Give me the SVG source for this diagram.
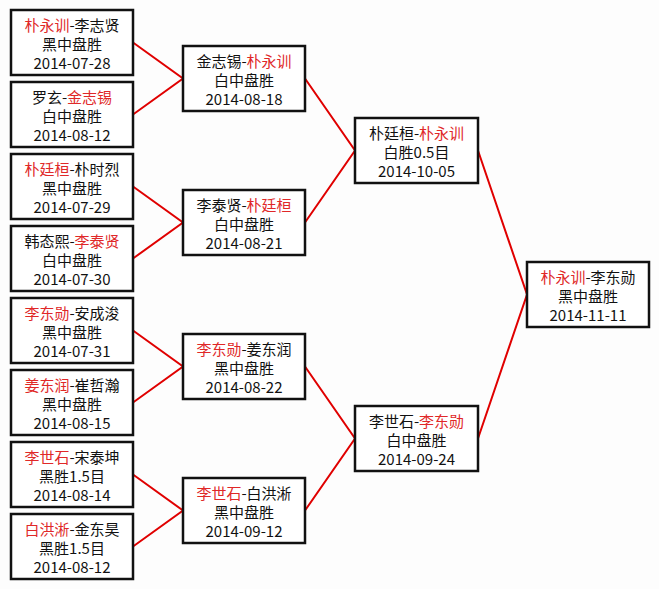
<svg xmlns="http://www.w3.org/2000/svg" width="659" height="589" viewBox="0 0 659 589">
<style>
.box{fill:#fff;stroke:#111;stroke-width:2.5}
text{font-family:"Noto Sans CJK SC","Liberation Sans",sans-serif;font-size:15px;fill:#111;text-anchor:middle}
.r{fill:#e02828}
.con{fill:none;stroke:#e00000;stroke-width:2}
</style>
<rect width="659" height="589" fill="#fdfdfd"/>
<g id="connectors">
<path class="con" d="M133,42.5 L183,78.5 L133,114.5"/>
<path class="con" d="M133,186.5 L183,222.5 L133,258.5"/>
<path class="con" d="M133,330.5 L183,366.5 L133,402.5"/>
<path class="con" d="M133,474.5 L183,510.5 L133,546.5"/>
<path class="con" d="M305,78.5 L355,150.5 L305,222.5"/>
<path class="con" d="M305,366.5 L355,438.5 L305,510.5"/>
<path class="con" d="M478,150.5 L527,294.5 L478,438.5"/>
</g>
<g id="n1"><rect class="box" x="11" y="10" width="122" height="65"/>
<text x="72" y="30.5"><tspan class="r">朴永训</tspan>-李志贤</text><text x="72" y="49.5">黑中盘胜</text><text x="72" y="68.5">2014-07-28</text></g>
<g id="n2"><rect class="box" x="11" y="82" width="122" height="65"/>
<text x="72" y="102.5">罗玄-<tspan class="r">金志锡</tspan></text><text x="72" y="121.5">白中盘胜</text><text x="72" y="140.5">2014-08-12</text></g>
<g id="n3"><rect class="box" x="11" y="154" width="122" height="65"/>
<text x="72" y="174.5"><tspan class="r">朴廷桓</tspan>-朴时烈</text><text x="72" y="193.5">黑中盘胜</text><text x="72" y="212.5">2014-07-29</text></g>
<g id="n4"><rect class="box" x="11" y="226" width="122" height="65"/>
<text x="72" y="246.5">韩态熙-<tspan class="r">李泰贤</tspan></text><text x="72" y="265.5">白中盘胜</text><text x="72" y="284.5">2014-07-30</text></g>
<g id="n5"><rect class="box" x="11" y="298" width="122" height="65"/>
<text x="72" y="318.5"><tspan class="r">李东勋</tspan>-安成浚</text><text x="72" y="337.5">黑中盘胜</text><text x="72" y="356.5">2014-07-31</text></g>
<g id="n6"><rect class="box" x="11" y="370" width="122" height="65"/>
<text x="72" y="390.5"><tspan class="r">姜东润</tspan>-崔哲瀚</text><text x="72" y="409.5">黑中盘胜</text><text x="72" y="428.5">2014-08-15</text></g>
<g id="n7"><rect class="box" x="11" y="442" width="122" height="65"/>
<text x="72" y="462.5"><tspan class="r">李世石</tspan>-宋泰坤</text><text x="72" y="481.5">黑胜1.5目</text><text x="72" y="500.5">2014-08-14</text></g>
<g id="n8"><rect class="box" x="11" y="514" width="122" height="65"/>
<text x="72" y="534.5"><tspan class="r">白洪淅</tspan>-金东昊</text><text x="72" y="553.5">黑胜1.5目</text><text x="72" y="572.5">2014-08-12</text></g>
<g id="m1"><rect class="box" x="183" y="46" width="122" height="65"/>
<text x="244" y="66.5">金志锡-<tspan class="r">朴永训</tspan></text><text x="244" y="85.5">白中盘胜</text><text x="244" y="104.5">2014-08-18</text></g>
<g id="m2"><rect class="box" x="183" y="190" width="122" height="65"/>
<text x="244" y="210.5">李泰贤-<tspan class="r">朴廷桓</tspan></text><text x="244" y="229.5">白中盘胜</text><text x="244" y="248.5">2014-08-21</text></g>
<g id="m3"><rect class="box" x="183" y="334" width="122" height="65"/>
<text x="244" y="354.5"><tspan class="r">李东勋</tspan>-姜东润</text><text x="244" y="373.5">黑中盘胜</text><text x="244" y="392.5">2014-08-22</text></g>
<g id="m4"><rect class="box" x="183" y="478" width="122" height="65"/>
<text x="244" y="498.5"><tspan class="r">李世石</tspan>-白洪淅</text><text x="244" y="517.5">黑中盘胜</text><text x="244" y="536.5">2014-09-12</text></g>
<g id="s1"><rect class="box" x="355" y="118" width="123" height="65"/>
<text x="416.5" y="138.5">朴廷桓-<tspan class="r">朴永训</tspan></text><text x="416.5" y="157.5">白胜0.5目</text><text x="416.5" y="176.5">2014-10-05</text></g>
<g id="s2"><rect class="box" x="355" y="406" width="123" height="65"/>
<text x="416.5" y="426.5">李世石-<tspan class="r">李东勋</tspan></text><text x="416.5" y="445.5">白中盘胜</text><text x="416.5" y="464.5">2014-09-24</text></g>
<g id="f1"><rect class="box" x="527" y="262" width="122" height="65"/>
<text x="588" y="282.5"><tspan class="r">朴永训</tspan>-李东勋</text><text x="588" y="301.5">黑中盘胜</text><text x="588" y="320.5">2014-11-11</text></g>
</svg>
